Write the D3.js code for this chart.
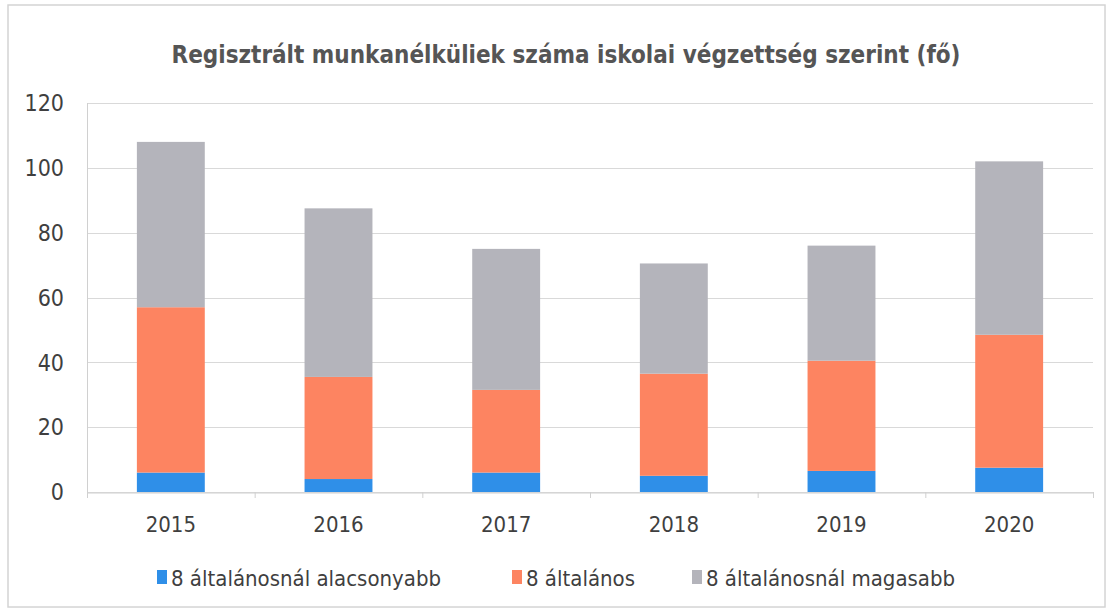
<!DOCTYPE html>
<html>
<head>
<meta charset="utf-8">
<script src="https://cdn.jsdelivr.net/npm/d3@7"></script>
<style>
  body { margin: 0; background: #fff; }
  svg text { font-family: "DejaVu Sans Condensed", "Liberation Sans", sans-serif; }
</style>
</head>
<body>
<div id="chart"></div>
<script>
// chart data
const years = ["2015", "2016", "2017", "2018", "2019", "2020"];
const seriesNames = ["8 általánosnál alacsonyabb", "8 általános", "8 általánosnál magasabb"];
const lower = [6, 4, 6, 5, 6.5, 7.5];
const primary = [51, 31.5, 25.5, 31.5, 34, 41];
const higher = [51, 52, 43.5, 34, 35.5, 53.5];
const yTicks = [0, 20, 40, 60, 80, 100, 120];
const colors = ["#2f8fe8", "#fd8461", "#b4b4bb"];

const width = 1112, height = 611;
const margin = {top: 103, right: 20, bottom: 119, left: 87};

const svg = d3.select("#chart").append("svg")
    .attr("width", width)
    .attr("height", height);

// outer frame
svg.append("rect")
    .attr("x", 8).attr("y", 5)
    .attr("width", 1097).attr("height", 602)
    .attr("fill", "none")
    .attr("stroke", "#d4d4d4")
    .attr("stroke-width", 1.5);

// build rows for the stack
const rows = years.map((y, i) => ({year: y, s0: lower[i], s1: primary[i], s2: higher[i]}));
const stack = d3.stack().keys(["s0", "s1", "s2"])(rows);

const x = d3.scaleBand()
    .domain(years)
    .range([margin.left, 1093])
    .paddingInner(0.595)
    .paddingOuter(0.2975);

const y = d3.scaleLinear()
    .domain([0, 120])
    .range([height - margin.bottom, margin.top]);

// gridlines
svg.append("g")
    .selectAll("line")
    .data(yTicks)
    .join("line")
    .attr("x1", margin.left)
    .attr("x2", 1093)
    .attr("y1", d => Math.round(y(d)) + 0.5)
    .attr("y2", d => Math.round(y(d)) + 0.5)
    .attr("stroke", "#d9d9d9")
    .attr("stroke-width", 1);

// left axis line
svg.append("line")
    .attr("x1", margin.left + 0.5).attr("x2", margin.left + 0.5)
    .attr("y1", y(120)).attr("y2", y(0) + 6)
    .attr("stroke", "#d0d0d0");

// y labels
svg.append("g")
    .selectAll("text")
    .data(yTicks)
    .join("text")
    .attr("x", 64)
    .attr("y", d => y(d))
    .attr("dy", "0.36em")
    .attr("text-anchor", "end")
    .attr("font-size", 23)
    .attr("fill", "#3f3f3f")
    .text(d => d);

// bars
svg.append("g")
    .selectAll("g")
    .data(stack)
    .join("g")
    .attr("fill", (d, i) => colors[i])
    .selectAll("rect")
    .data(d => d)
    .join("rect")
    .attr("x", d => x(d.data.year))
    .attr("y", d => y(d[1]))
    .attr("height", d => y(d[0]) - y(d[1]))
    .attr("width", x.bandwidth());

// x axis
const xAxis = svg.append("g")
    .attr("transform", `translate(0,${Math.round(y(0)) + 0.5})`)
    .call(d3.axisBottom(x).tickSize(0).tickPadding(24));
xAxis.select(".domain").attr("stroke", "#d0d0d0");
xAxis.selectAll("text")
    .attr("font-size", 22)
    .attr("fill", "#3f3f3f")
    .style("font-family", "'DejaVu Sans Condensed', 'Liberation Sans', sans-serif");

// band boundary ticks
const step = x.step();
svg.append("g")
    .selectAll("line")
    .data(d3.range(years.length + 1))
    .join("line")
    .attr("x1", d => margin.left + d * step + 0.5)
    .attr("x2", d => margin.left + d * step + 0.5)
    .attr("y1", y(0))
    .attr("y2", y(0) + 6)
    .attr("stroke", "#d0d0d0");

// title
svg.append("text")
    .attr("x", 566)
    .attr("y", 63)
    .attr("text-anchor", "middle")
    .attr("font-size", 24)
    .attr("font-weight", "bold")
    .attr("fill", "#555555")
    .text("Regisztrált munkanélküliek száma iskolai végzettség szerint (fő)");

// legend
const legendX = [157, 512, 692];
const legend = svg.append("g")
    .selectAll("g")
    .data(seriesNames)
    .join("g")
    .attr("transform", (d, i) => `translate(${legendX[i]},578)`);
legend.append("rect")
    .attr("x", 0).attr("y", -8)
    .attr("width", 10).attr("height", 14)
    .attr("fill", (d, i) => colors[i]);
legend.append("text")
    .attr("x", 14)
    .attr("y", 0)
    .attr("dy", "0.36em")
    .attr("font-size", 22)
    .attr("fill", "#3f3f3f")
    .text(d => d);
</script>
</body>
</html>
